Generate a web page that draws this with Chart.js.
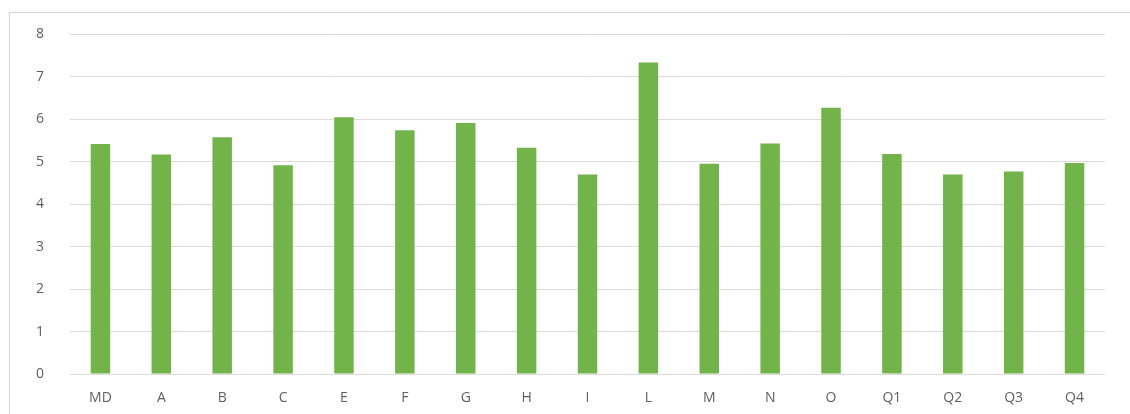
<!DOCTYPE html>
<html>
<head>
<meta charset="utf-8">
<script src="https://cdn.jsdelivr.net/npm/chart.js@4"></script>
<style>
  html, body { margin: 0; padding: 0; background: #fff; }
  #wrap { position: relative; width: 1130px; height: 414px; overflow: hidden; }
  #frame {
    position: absolute; left: 9px; top: 12px; width: 1200px; height: 500px;
    border-left: 1px solid #d4d4d4; border-top: 1px solid #d4d4d4;
  }
  canvas { position: absolute; left: 0; top: 0; }
</style>
</head>
<body>
<div id="wrap">
  <div id="frame"></div>
  <canvas id="myChart" width="1130" height="414"></canvas>
</div>
<script>
const categories = ['MD', 'A', 'B', 'C', 'E', 'F', 'G', 'H', 'I', 'L', 'M', 'N', 'O', 'Q1', 'Q2', 'Q3', 'Q4'];
const scores = [5.42, 5.17, 5.58, 4.92, 6.05, 5.74, 5.91, 5.33, 4.70, 7.34, 4.95, 5.43, 6.27, 5.18, 4.70, 4.77, 4.97];
const yTicks = [0, 1, 2, 3, 4, 5, 6, 7, 8];

const textColor = '#5f5f5f';
const gridColor = '#dcdcdc';

const data = {
  labels: categories,
  datasets: [{
    data: scores,
    backgroundColor: '#72b34a',
    borderWidth: 0,
    barPercentage: 0.4,
    categoryPercentage: 0.8
  }]
};

const config = {
  type: 'bar',
  data: data,
  options: {
    responsive: false,
    animation: false,
    layout: { padding: { top: 33, right: 25, left: 0, bottom: 0 } },
    plugins: {
      legend: { display: false },
      tooltip: { enabled: false }
    },
    scales: {
      x: {
        grid: { display: false, drawTicks: false },
        border: { display: false },
        ticks: {
          color: textColor,
          padding: 16,
          font: { family: 'Open Sans', size: 14 }
        },
        afterFit: (scale) => { scale.height = 40; }
      },
      y: {
        min: 0,
        max: 8,
        afterBuildTicks: (scale) => {
          scale.ticks = yTicks.map(v => ({ value: v }));
        },
        grid: { color: gridColor, lineWidth: 1, drawTicks: false },
        border: { display: false },
        ticks: {
          color: textColor,
          padding: 26,
          font: { family: 'Open Sans', size: 14 }
        },
        afterFit: (scale) => { scale.width = 70; }
      }
    }
  }
};

const myChart = new Chart(document.getElementById('myChart'), config);
</script>
</body>
</html>
